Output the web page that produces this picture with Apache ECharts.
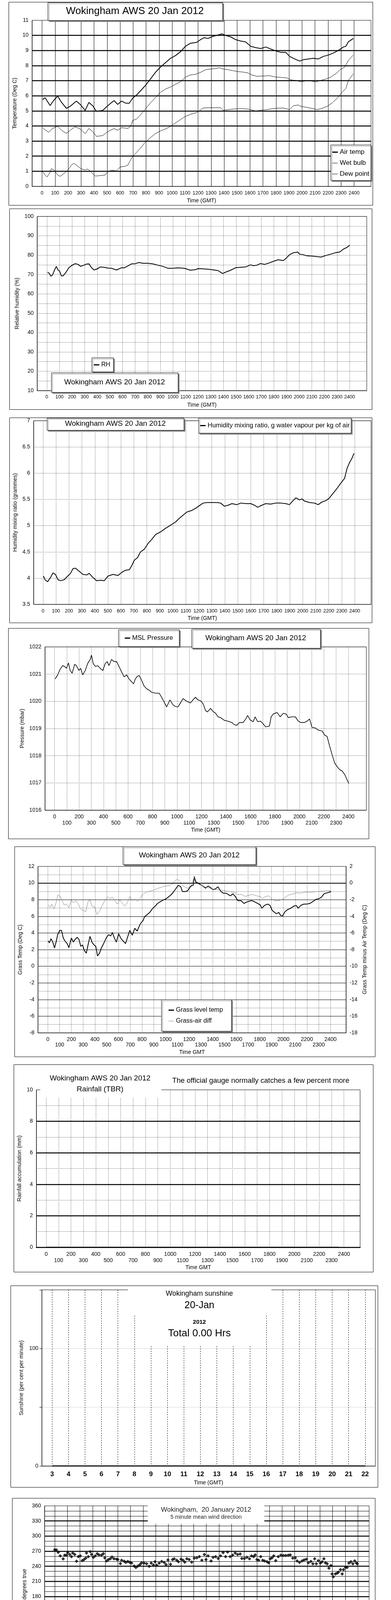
<!DOCTYPE html>
<html><head><meta charset="utf-8">
<script src="https://cdn.jsdelivr.net/npm/echarts@6.0.0/dist/echarts.min.js"></script>
<style>html,body{margin:0;padding:0;background:#fff;}#page{position:relative;width:1000px;height:5000px;background:#fff;}.panel{position:absolute;}</style>
</head><body><div id="page"></div>
<script>
// ---------- tick label arrays ----------
const hhmmTicks = [0,100,200,300,400,500,600,700,800,900,1000,1100,1200,1300,1400,1500,1600,1700,1800,1900,2000,2100,2200,2300,2400];
const hhmmEven = [0,200,400,600,800,1000,1200,1400,1600,1800,2000,2200,2400];
const hhmmOdd = [100,300,500,700,900,1100,1300,1500,1700,1900,2100,2300];
const hourTicks = [0,1,2,3,4,5,6,7,8,9,10,11,12,13,14,15,16,17,18,19,20,21,22,23,24];
const hourEven = [0,2,4,6,8,10,12,14,16,18,20,22];
const hourOdd = [1,3,5,7,9,11,13,15,17,19,21,23];
const sunHours = [3,4,5,6,7,8,9,10,11,12,13,14,15,16,17,18,19,20,21,22];

// ---------- series data (time HHMM, value) ----------
const airTemp = [[4,5.75],[23,5.87],[62,5.35],[90,5.7],[120,5.98],[150,5.56],[187,5.17],[216,5.3],[264,5.65],[293,5.43],[332,5.03],[360,5.56],[390,5.34],[418,4.97],[466,5.03],[505,5.34],[553,5.68],[582,5.43],[611,5.65],[640,5.52],[670,5.5],[698,5.85],[727,6.05],[765,6.4],[794,6.67],[833,7.1],[872,7.55],[911,7.9],[950,8.2],[988,8.48],[1026,8.66],[1065,8.92],[1103,9.28],[1142,9.48],[1190,9.54],[1219,9.72],[1248,9.85],[1277,9.8],[1316,9.94],[1354,10.03],[1383,10.1],[1412,10.0],[1451,9.9],[1489,9.72],[1528,9.63],[1566,9.57],[1605,9.28],[1644,9.19],[1682,9.13],[1721,9.23],[1759,9.1],[1798,8.97],[1836,8.88],[1875,8.88],[1904,8.61],[1943,8.44],[1981,8.3],[2010,8.39],[2049,8.44],[2087,8.48],[2126,8.44],[2164,8.61],[2203,8.7],[2241,8.83],[2280,9.01],[2318,9.23],[2337,9.28],[2357,9.58],[2395,9.8]];
const wetBulb = [[4,3.89],[23,3.75],[52,3.58],[81,3.84],[120,3.98],[150,3.71],[187,3.51],[216,3.71],[254,3.95],[293,3.8],[332,3.49],[360,3.83],[390,3.62],[418,3.31],[466,3.36],[505,3.62],[553,3.83],[582,3.71],[611,3.89],[660,3.84],[679,3.95],[698,4.37],[727,4.46],[765,4.81],[794,5.12],[833,5.52],[872,5.87],[911,6.23],[950,6.45],[988,6.58],[1026,6.76],[1065,6.93],[1103,7.24],[1142,7.38],[1180,7.42],[1219,7.55],[1258,7.73],[1296,7.77],[1335,7.8],[1364,7.86],[1393,7.77],[1431,7.73],[1470,7.66],[1508,7.6],[1547,7.57],[1585,7.51],[1614,7.38],[1653,7.29],[1701,7.31],[1750,7.33],[1798,7.24],[1836,7.22],[1885,7.18],[1914,7.05],[1952,7.02],[1991,6.93],[2029,6.98],[2068,6.98],[2106,6.92],[2145,7.02],[2183,7.11],[2222,7.24],[2260,7.46],[2299,7.77],[2328,7.9],[2357,8.35],[2395,8.7]];
const dewPoint = [[4,0.97],[23,0.75],[38,0.62],[62,0.93],[71,1.17],[90,1.1],[120,0.75],[139,0.66],[168,0.84],[197,1.06],[226,1.41],[245,1.53],[274,1.33],[303,1.15],[332,1.09],[351,1.15],[380,0.93],[409,0.68],[447,0.71],[486,0.75],[505,0.97],[534,1.06],[572,1.02],[601,1.28],[640,1.33],[660,1.41],[679,1.72],[698,1.99],[727,2.25],[756,2.52],[794,2.92],[833,3.22],[872,3.49],[911,3.67],[950,3.8],[988,3.98],[1026,4.2],[1065,4.42],[1103,4.64],[1142,4.77],[1180,4.86],[1209,4.99],[1238,5.19],[1277,5.21],[1335,5.21],[1373,5.21],[1393,5.04],[1431,5.08],[1470,5.12],[1528,5.15],[1585,5.12],[1644,4.99],[1682,5.04],[1740,5.1],[1798,5.17],[1856,5.19],[1904,5.08],[1933,5.34],[1971,5.39],[1991,5.3],[2049,5.21],[2087,5.15],[2116,5.08],[2155,5.17],[2193,5.3],[2231,5.52],[2270,5.83],[2308,6.23],[2337,6.49],[2357,7.02],[2395,7.46]];
const relHumidity = [[6,71.2],[20,70.5],[32,69.1],[46,69.9],[62,72.5],[75,74.2],[89,72.3],[101,71.7],[115,69.3],[129,69.3],[149,70.9],[175,73.5],[201,74.8],[225,75.6],[248,75.2],[268,74.2],[294,74.8],[314,75.4],[334,75.5],[354,73.5],[374,72.3],[400,72.9],[423,73.9],[453,73.7],[483,73.3],[513,73.2],[552,72.3],[592,73.5],[612,73.4],[642,74.4],[672,75.5],[701,75.6],[731,76.2],[761,75.8],[801,75.8],[840,75.5],[880,74.8],[920,74.2],[960,73.2],[999,73.2],[1039,73.4],[1089,73.2],[1138,72.2],[1178,72.5],[1198,73.0],[1238,72.9],[1278,72.7],[1317,72.4],[1357,72.0],[1393,70.5],[1417,71.2],[1457,72.2],[1497,73.5],[1536,73.7],[1576,73.9],[1616,75.0],[1636,74.5],[1665,74.8],[1695,75.7],[1725,75.2],[1765,76.0],[1804,77.0],[1834,77.6],[1874,77.2],[1894,78.2],[1924,80.2],[1953,81.2],[1989,81.6],[2003,80.5],[2033,80.2],[2063,79.6],[2102,79.5],[2142,79.2],[2176,79.0],[2212,79.8],[2252,80.5],[2291,81.3],[2321,81.6],[2351,83.1],[2381,84.1],[2400,85.1]];
const mixingRatio = [[4,4.04],[15,3.97],[35,3.93],[58,4.01],[77,4.10],[96,4.07],[116,3.97],[135,3.95],[164,3.97],[183,4.02],[212,4.09],[231,4.18],[250,4.19],[279,4.13],[308,4.07],[337,4.06],[356,4.09],[385,4.01],[414,3.95],[443,3.96],[472,3.95],[501,4.04],[540,4.07],[578,4.05],[607,4.11],[636,4.15],[665,4.16],[684,4.24],[703,4.34],[728,4.39],[751,4.5],[780,4.55],[809,4.66],[838,4.74],[867,4.83],[905,4.88],[944,4.95],[983,5.01],[1021,5.07],[1050,5.14],[1079,5.2],[1108,5.26],[1146,5.29],[1175,5.33],[1204,5.38],[1233,5.43],[1262,5.44],[1301,5.44],[1339,5.44],[1368,5.43],[1397,5.37],[1426,5.39],[1455,5.42],[1493,5.40],[1522,5.43],[1561,5.42],[1599,5.42],[1628,5.39],[1653,5.35],[1686,5.39],[1715,5.42],[1753,5.41],[1792,5.43],[1830,5.43],[1869,5.42],[1898,5.40],[1927,5.48],[1947,5.53],[1975,5.49],[1994,5.51],[2013,5.47],[2052,5.44],[2090,5.43],[2119,5.40],[2148,5.45],[2181,5.48],[2206,5.53],[2235,5.62],[2264,5.71],[2293,5.81],[2322,5.9],[2341,6.09],[2360,6.2],[2380,6.29],[2395,6.38]];
const mslPressure = [[4,1020.82],[25,1020.97],[45,1021.18],[66,1021.31],[82,1021.28],[96,1021.21],[113,1021.41],[127,1021.13],[143,1021.03],[164,1021.36],[178,1021.31],[199,1021.13],[213,1021.21],[229,1020.97],[250,1021.13],[270,1021.39],[291,1021.54],[301,1021.70],[315,1021.39],[332,1021.28],[352,1021.31],[373,1021.21],[393,1021.13],[414,1021.39],[430,1021.46],[444,1021.31],[465,1021.54],[485,1021.46],[506,1021.46],[526,1021.28],[547,1021.08],[567,1020.90],[588,1020.97],[608,1020.82],[629,1020.72],[645,1020.64],[659,1020.82],[676,1020.92],[690,1020.95],[711,1020.77],[731,1020.56],[752,1020.46],[772,1020.41],[793,1020.33],[823,1020.30],[854,1020.30],[874,1020.15],[895,1019.97],[915,1019.79],[942,1020.05],[967,1019.87],[987,1019.81],[1008,1019.79],[1028,1019.94],[1049,1020.10],[1079,1020.0],[1110,1019.94],[1130,1020.05],[1151,1020.15],[1171,1020.05],[1192,1020.02],[1212,1019.92],[1233,1019.66],[1249,1019.61],[1274,1019.74],[1294,1019.63],[1315,1019.56],[1335,1019.43],[1356,1019.40],[1387,1019.30],[1417,1019.27],[1448,1019.22],[1468,1019.14],[1489,1019.12],[1509,1019.22],[1540,1019.22],[1561,1019.35],[1577,1019.48],[1597,1019.32],[1622,1019.25],[1638,1019.43],[1659,1019.25],[1683,1019.27],[1704,1019.17],[1724,1019.06],[1755,1019.09],[1769,1019.43],[1786,1019.53],[1817,1019.59],[1843,1019.43],[1868,1019.56],[1892,1019.53],[1909,1019.40],[1939,1019.43],[1966,1019.43],[1991,1019.27],[2011,1019.22],[2042,1019.22],[2062,1019.27],[2083,1019.35],[2103,1019.04],[2130,1019.02],[2154,1018.94],[2185,1018.91],[2206,1018.76],[2226,1018.71],[2247,1018.35],[2267,1018.04],[2288,1017.73],[2308,1017.60],[2329,1017.49],[2349,1017.44],[2370,1017.31],[2390,1017.11],[2404,1016.98]];
const grassTemp = [[4,3.06],[13,2.81],[27,3.31],[42,2.90],[57,2.20],[70,2.90],[84,3.81],[101,4.31],[116,4.31],[131,3.40],[148,2.98],[164,2.73],[179,2.23],[200,3.40],[217,2.90],[232,3.23],[249,3.48],[264,3.23],[280,2.40],[295,2.56],[310,1.90],[327,1.57],[344,2.73],[358,3.59],[375,2.90],[392,2.56],[407,2.40],[422,1.24],[439,1.57],[453,2.15],[474,2.73],[496,3.40],[517,3.81],[534,3.64],[548,4.06],[565,3.40],[582,2.90],[601,3.90],[622,3.31],[643,2.98],[660,2.73],[675,3.40],[696,4.31],[717,3.73],[738,4.56],[759,4.23],[776,4.81],[791,5.22],[808,5.47],[822,5.97],[839,6.14],[865,6.47],[886,6.88],[911,7.22],[932,7.55],[953,7.75],[981,7.97],[1002,8.09],[1023,8.31],[1044,8.55],[1065,8.89],[1086,9.30],[1107,9.72],[1128,9.58],[1143,8.97],[1164,8.97],[1185,9.05],[1206,9.47],[1223,9.72],[1234,9.72],[1244,10.79],[1255,10.13],[1276,9.97],[1297,9.80],[1318,9.63],[1339,9.38],[1360,9.63],[1381,9.47],[1402,9.21],[1423,9.30],[1445,9.55],[1466,9.05],[1487,8.80],[1518,8.75],[1550,8.46],[1571,8.71],[1592,8.38],[1613,7.88],[1640,7.88],[1666,7.55],[1687,7.72],[1708,7.80],[1729,7.91],[1755,7.75],[1782,7.55],[1803,7.38],[1818,6.97],[1839,7.31],[1867,7.47],[1887,7.31],[1904,6.73],[1925,6.47],[1940,6.31],[1961,6.47],[1978,6.09],[1993,6.05],[2014,6.55],[2035,6.80],[2062,6.97],[2088,7.22],[2109,7.31],[2126,6.97],[2147,7.31],[2173,7.47],[2198,7.47],[2226,7.55],[2253,7.80],[2278,8.05],[2303,8.14],[2324,8.31],[2345,8.71],[2366,8.80],[2388,8.89],[2404,8.97]];
const grassAirDiff = [[4,-2.62],[21,-2.95],[34,-2.53],[53,-3.12],[70,-2.37],[84,-1.46],[101,-1.54],[116,-1.95],[137,-2.62],[158,-2.53],[179,-2.95],[200,-2.04],[217,-2.37],[238,-2.12],[259,-2.53],[280,-3.12],[299,-3.28],[321,-3.45],[342,-2.20],[358,-2.04],[375,-2.78],[396,-2.87],[418,-3.78],[439,-3.37],[460,-2.78],[485,-2.04],[506,-1.62],[527,-1.87],[548,-1.70],[570,-2.12],[590,-2.53],[612,-2.04],[633,-2.45],[654,-2.78],[675,-2.37],[696,-1.62],[717,-2.12],[738,-1.87],[759,-2.20],[780,-1.95],[801,-1.46],[822,-1.21],[844,-1.04],[875,-0.96],[907,-0.79],[938,-0.62],[970,-0.46],[1002,-0.38],[1033,-0.29],[1065,-0.04],[1086,0.37],[1103,0.46],[1122,0.21],[1143,-0.29],[1164,-0.46],[1185,-0.62],[1206,-0.46],[1223,-0.04],[1244,0.70],[1261,0.21],[1286,-0.04],[1307,-0.29],[1333,-0.46],[1360,-0.54],[1392,-0.71],[1423,-0.79],[1455,-0.79],[1487,-0.87],[1518,-0.96],[1550,-1.04],[1582,-1.12],[1613,-1.37],[1645,-1.37],[1677,-1.62],[1708,-1.46],[1740,-1.37],[1772,-1.54],[1803,-1.62],[1824,-1.87],[1845,-1.62],[1877,-1.54],[1904,-1.95],[1930,-2.12],[1961,-2.12],[1993,-1.95],[2024,-1.62],[2056,-1.37],[2088,-1.29],[2120,-1.16],[2151,-1.21],[2183,-1.09],[2214,-1.12],[2246,-1.09],[2278,-1.04],[2310,-0.99],[2341,-0.96],[2373,-0.91],[2404,-0.92]];
const rainfallAccum = [[0,0],[100,0],[200,0],[300,0],[400,0],[500,0],[600,0],[700,0],[800,0],[900,0],[1000,0],[1100,0],[1200,0],[1300,0],[1400,0],[1500,0],[1600,0],[1700,0],[1800,0],[1900,0],[2000,0],[2100,0],[2200,0],[2300,0],[2359,0]];
const sunshinePct = [0,0,0,0,0,0,0,0,0,0,0,0,0,0,0,0,0,0,0,0];
// wind direction: [hour, degrees]
const windDir = [[0.00,272.9],[0.14,272.6],[0.28,267.7],[0.44,260.6],[0.67,254.6],[0.79,262],[0.93,262],[1.03,267],[1.19,263.4],[1.33,259.1],[1.43,266.3],[1.59,263.4],[1.73,250],[1.87,259.1],[2.02,260.6],[2.18,251.1],[2.32,253.4],[2.46,256.3],[2.52,266.3],[2.66,259.1],[2.82,269.1],[2.92,263.4],[3.06,257.7],[3.21,260.6],[3.37,264.9],[3.51,262.6],[3.71,262],[3.85,264.9],[3.97,256.9],[4.11,250.6],[4.25,253.4],[4.40,254.9],[4.54,258.3],[4.70,254.9],[4.90,254],[5.00,253.4],[5.20,245.4],[5.30,252],[5.50,250],[5.63,247.7],[5.79,249.7],[5.95,247.7],[6.09,246.3],[6.29,240.6],[6.43,237.7],[6.59,240.6],[6.75,243.4],[6.88,246.9],[7.08,246.3],[7.28,244.9],[7.48,240],[7.64,246.3],[7.82,242.6],[7.94,249.1],[8.08,242],[8.27,246.3],[8.47,249.7],[8.67,247.7],[8.81,243.4],[8.97,252.6],[9.17,244],[9.33,253.4],[9.46,254.9],[9.66,252],[9.80,249.1],[10.00,254],[10.16,252],[10.30,248.3],[10.46,254.9],[10.65,253.4],[10.85,248.3],[11.05,256.3],[11.25,256.9],[11.45,259.1],[11.65,252],[11.85,263.4],[11.98,253.4],[12.14,260.6],[12.38,250.6],[12.54,257.7],[12.74,259.1],[12.94,255.7],[13.13,260.6],[13.33,267.1],[13.53,259.1],[13.69,268.3],[13.89,259.1],[14.09,262],[14.29,266.3],[14.48,263.4],[14.68,264.3],[14.82,255.4],[15.02,255.4],[15.22,257.7],[15.42,254.9],[15.58,260.6],[15.75,259.1],[15.87,262.6],[16.01,253.4],[16.15,252],[16.31,259.1],[16.47,252],[16.61,250.6],[16.81,249.1],[16.94,246.9],[17.06,254.9],[17.20,256.9],[17.34,260.6],[17.50,251.1],[17.70,259.1],[17.90,262],[18.10,261.4],[18.29,261.4],[18.49,262],[18.65,262.6],[18.85,256.3],[19.05,256.9],[19.19,250.6],[19.38,247.7],[19.58,250.6],[19.74,252.6],[19.92,254],[20.08,246.9],[20.28,249.7],[20.44,244.9],[20.58,254.9],[20.71,244.9],[20.87,251.1],[21.03,246.3],[21.17,249.1],[21.31,254.9],[21.43,246.9],[21.57,244.9],[21.71,236.3],[21.87,241.4],[21.96,224.9],[22.06,219.1],[22.22,224.9],[22.36,226.3],[22.46,228.3],[22.62,233.4],[22.76,224.9],[22.86,233.4],[23.02,237.7],[23.15,237.7],[23.29,246.3],[23.45,249.1],[23.61,244.9],[23.75,250.6],[23.89,246.3],[23.95,244.9]];
// wind speed 10-min mean: [hour, knots]
const windMean = [[0.06,8.07],[0.15,6.94],[0.25,8.07],[0.39,8.63],[0.54,7.79],[0.69,6.66],[0.83,6.09],[0.96,6.94],[1.08,8.63],[1.21,9.76],[1.37,9.2],[1.50,8.92],[1.66,9.2],[1.79,8.35],[1.89,7.51],[1.98,5.64],[2.12,5.64],[2.27,8.07],[2.43,8.52],[2.56,7.22],[2.70,8.07],[2.85,8.63],[3.01,8.18],[3.14,6.83],[3.33,6.94],[3.53,7.51],[3.72,9.2],[3.91,7.39],[4.10,7.51],[4.30,8.63],[4.49,7.79],[4.68,7.22],[4.87,8.92],[5.07,9.48],[5.26,9.2],[5.45,8.63],[5.65,9.48],[5.84,9.76],[6.03,8.07],[6.22,7.79],[6.42,8.63],[6.61,7.22],[6.80,8.63],[6.99,9.2],[7.19,8.92],[7.38,9.48],[7.57,9.2],[7.76,9.2],[7.96,9.48],[8.15,10.05],[8.34,9.48],[8.54,9.2],[8.73,9.59],[8.92,8.92],[9.11,9.76],[9.25,12.02],[9.40,10.61],[9.60,10.89],[9.79,9.76],[9.94,9.48],[10.13,12.47],[10.27,11.46],[10.46,11.74],[10.66,11.17],[10.85,11.74],[11.00,10.05],[11.14,11.46],[11.33,12.3],[11.52,11.17],[11.71,12.3],[11.91,12.13],[12.10,10.61],[12.29,12.02],[12.49,11.17],[12.64,13.15],[12.83,12.02],[13.03,11.46],[13.22,11.17],[13.41,10.61],[13.60,10.89],[13.80,9.76],[13.99,11.17],[14.22,10.89],[14.41,9.2],[14.60,9.76],[14.80,10.05],[14.99,8.92],[15.18,10.33],[15.38,8.63],[15.57,9.48],[15.76,10.61],[15.95,12.02],[16.11,10.05],[16.30,8.07],[16.49,9.76],[16.72,8.92],[16.92,9.76],[17.11,9.31],[17.30,10.33],[17.49,9.2],[17.69,9.48],[17.88,9.48],[18.07,8.92],[18.27,8.35],[18.46,9.48],[18.65,9.88],[18.84,8.63],[19.04,8.35],[19.23,8.07],[19.42,7.51],[19.61,7.79],[19.81,7.51],[20.00,7.22],[20.15,6.66],[20.29,5.25],[20.48,6.09],[20.67,7.22],[20.87,6.66],[21.06,7.22],[21.25,6.38],[21.45,7.51],[21.64,6.94],[21.83,6.38],[22.02,6.09],[22.22,5.25],[22.41,5.81],[22.60,6.38],[22.79,6.66],[22.99,6.94],[23.18,6.09],[23.37,7.79],[23.47,9.31],[23.62,9.2],[23.76,8.07],[23.89,6.94],[24.00,7.51]];
// max gust, one reading per 6 minutes from 00:00
const gustStep = 0.1;
const gustMax = [
14,11,18.5,10,14.5,9,12,8.5,11,8,
16,12,18.7,11,15,10,16,9,13,8,
12,7.5,14,9,15.5,10,14,9,13,8.5,
12,8,17,10,14,9,16.5,9,14,8.5,
15,9,13,10,18.5,11,16,10,17,9,
15,10,16,9,14,11,16,9.5,13,9,
13,8,15,9,12,8,14,9,13,10,
15,10,17,11,19.5,10,16,11,18,10,
17,11,20,11,16,12,18,10,19,12,
20,11,24,12,18,13,22,11,19,12,
25.5,13,22,14,24,12,21,14,25,13,
20,13,25,14,19,13,23,14,21,13,
22,13,19,14,23,12,20,13,21,12,
20,12,22,11,18,12,21,11,19,11,
18,11,20,10,17,11,19,10,17,11,
16,10,21,11,18,10,20.5,11,17,10,
17,10,19,10,16,11,18,10,16,10,
15,9,18,10,16,10,17,9,15,10,
15,9,16,8.5,14,9,15,8,13,9,
14,8,15,8.5,13,8,14,7.5,13,8,
12,6.5,14,7,15,7,13,6.5,14,7,
13,7,15,6.5,12,7,14,6.5,13,6,
11,6,14,6.5,12,6,13,6.5,12,7,
14,8,17,9,15,8,14,9,12,10,
11];
const slowSpeedsDiv10 = [];

// ---------- helpers ----------
const NARROW = "'Liberation Sans Narrow','Arial Narrow','Liberation Sans',Arial,sans-serif";
const SANS = "'Liberation Sans',Arial,Helvetica,sans-serif";
const BLACK = '#000';
const dotted = {color:'#000', width:1, type:[1,2]};
const ICON_THICK = 'path://M0,0h0.01v0.01h-0.01zM0,3.5h14v3h-14zM0,10h0.01v0.01h-0.01z';
const ICON_THIN = 'path://M0,0h0.01v0.01h-0.01zM0,4.4h14v1.2h-14zM0,10h0.01v0.01h-0.01z';
function plain(v){return String(v);}

function merge(a,b){const r=Object.assign({},a);for(const k in b){const v=b[k];if(v&&typeof v==='object'&&!Array.isArray(v)&&a[k]&&typeof a[k]==='object'&&!Array.isArray(a[k]))r[k]=merge(a[k],v);else r[k]=v;}return r;}
function frameRect(w,h){return {type:'rect',silent:true,z:0,shape:{x:0.5,y:0.5,width:w-1,height:h-1},style:{fill:'transparent',stroke:BLACK,lineWidth:1}};}
function box(x,y,w,h){return {type:'rect',silent:true,z:100,shape:{x:x+0.5,y:y+0.5,width:w,height:h},style:{fill:'#fff',stroke:BLACK,lineWidth:1,shadowColor:'#808080',shadowOffsetX:3,shadowOffsetY:3,shadowBlur:0}};}
function mask(x,y,w,h){return {type:'rect',silent:true,z:99,shape:{x:x,y:y,width:w,height:h},style:{fill:'#fff',stroke:null}};}
function label(x,y,text,size,weight,color){return {type:'text',silent:true,z:101,x:x,y:y,style:{text:text,fill:color||BLACK,font:(weight||'normal')+' '+size+'px '+SANS,align:'center',verticalAlign:'middle',textAlign:'center',textVerticalAlign:'middle'}};}
function gridAt(l,t,w,h){return {left:l,top:t,width:w,height:h,show:true,borderColor:BLACK,borderWidth:1,backgroundColor:'transparent'};}
function xBase(o){return merge({type:'value',axisLine:{show:true,onZero:false,lineStyle:{color:BLACK,width:1}},axisTick:{show:false},axisLabel:{color:BLACK,fontFamily:NARROW,fontSize:14,formatter:plain},splitLine:{show:true},nameLocation:'middle',nameTextStyle:{color:BLACK,fontFamily:SANS,fontSize:14}},o);}
function hhmmAxis(min,max,grid,labels,margin,name,gap,size){return xBase({min:min,max:max,axisTick:{customValues:hhmmTicks},axisLabel:{customValues:labels,margin:margin,fontSize:size||14},splitLine:{lineStyle:grid},name:name,nameGap:gap});}
function secondRow(min,max,labels,margin,fmt){return {type:'value',min:min,max:max,position:'bottom',axisLine:{show:false,onZero:false},axisTick:{show:false},splitLine:{show:false},axisLabel:{customValues:labels,color:BLACK,fontFamily:NARROW,fontSize:14,margin:margin,formatter:fmt||plain}};}
function yBase(o){return merge({type:'value',axisLine:{show:true,onZero:false,lineStyle:{color:BLACK,width:1}},axisTick:{show:false},axisLabel:{color:BLACK,fontFamily:NARROW,fontSize:14,margin:9,formatter:plain},nameLocation:'middle',nameRotate:90,nameTextStyle:{color:BLACK,fontFamily:SANS,fontSize:14}},o);}
function legendBox(o){return merge({borderColor:BLACK,borderWidth:1,backgroundColor:'#fff',shadowColor:'#808080',shadowOffsetX:3,shadowOffsetY:3,shadowBlur:0,itemWidth:14,itemHeight:10,selectedMode:false,z:50,textStyle:{color:BLACK,fontFamily:SANS,fontSize:16}},o);}
function line(name,data,width,color,extra){return merge({type:'line',name:name,data:data,showSymbol:false,symbol:'none',silent:true,z:3,lineStyle:{color:color||BLACK,width:width},itemStyle:{color:color||BLACK}},extra||{});}
function hh(v){return (v<10?'0':'')+v+':00';}

function panel(frame,option){
  const d=document.createElement('div');d.className='panel';
  d.style.left=frame[0]+'px';d.style.top=frame[1]+'px';d.style.width=frame[2]+'px';d.style.height=frame[3]+'px';
  document.getElementById('page').appendChild(d);
  const c=echarts.init(d,null,{renderer:'canvas'});
  option.animation=false;
  option.textStyle={fontFamily:SANS};
  option.graphic=[frameRect(frame[2],frame[3])].concat(option.graphic||[]);
  c.setOption(option);
}
const TITLE='Wokingham AWS 20 Jan 2012';

// ---------- 1. temperatures ----------
panel([22,5,932,521],{
  grid:gridAt(60,47,867,430),
  xAxis:hhmmAxis(-77,2531,{color:BLACK,width:1},hhmmTicks,11,'Time (GMT)',30,12.5),
  yAxis:yBase({min:0,max:11,interval:1,splitLine:{show:true,showMinLine:false,showMaxLine:false,lineStyle:{color:BLACK,width:2.5}},name:'Temperature (Deg C)',nameGap:37}),
  legend:legendBox({orient:'vertical',left:824,top:366,padding:[10,4,8,4],itemGap:11,textStyle:{fontSize:17},data:[{name:'Air temp',icon:ICON_THICK},{name:'Wet bulb',icon:ICON_THIN},{name:'Dew point',icon:ICON_THIN}]}),
  series:[line('Air temp',airTemp,2),line('Wet bulb',wetBulb,1),line('Dew point',dewPoint,1)],
  graphic:[box(100,1,447,46),label(323,24,TITLE,26)]
});
// ---------- 2. relative humidity ----------
panel([24,534,928,515],{
  grid:gridAt(71,20,843,452),
  xAxis:hhmmAxis(-77,2536,dotted,hhmmTicks,10,'Time (GMT)',30,12.5),
  yAxis:yBase({min:10,max:100,interval:5,axisLabel:{formatter:function(v){return v%10===0?String(v):'';}},splitLine:{show:true,lineStyle:dotted},name:'Relative humidity (%)',nameGap:44}),
  legend:legendBox({left:211,top:382,padding:[10,8,10,5],data:[{name:'RH',icon:ICON_THICK}]}),
  series:[line('RH',relHumidity,2)],
  graphic:[box(107,420,324,50),label(269,445,TITLE,19)]
});
// ---------- 3. mixing ratio ----------
panel([24,1069,928,526],{
  grid:gridAt(61,8,864,473),
  xAxis:hhmmAxis(-72,2526,dotted,hhmmTicks,11,'Time (GMT)',27,12.5),
  yAxis:yBase({min:3.5,max:7,interval:0.5,splitLine:{show:true,lineStyle:dotted},name:'Humidity mixing ratio (grammes)',nameGap:40}),
  legend:legendBox({left:484,top:1,padding:[11,4,11,4],textStyle:{fontSize:16.5},data:[{name:'Humidity mixing ratio, g water vapour per kg of air',icon:ICON_THICK}]}),
  series:[line('Humidity mixing ratio, g water vapour per kg of air',mixingRatio,2)],
  graphic:[box(96,1,350,31),label(271,16,TITLE,19)]
});
// ---------- 4. pressure ----------
panel([21,1608,923,540],{
  grid:gridAt(94,48,822,418),
  xAxis:[hhmmAxis(-79,2547,dotted,hhmmEven,10,'Time (GMT)',44),secondRow(-79,2547,hhmmOdd,26)],
  yAxis:yBase({min:1016,max:1022,interval:1,splitLine:{show:true,lineStyle:dotted},name:'Pressure (mbar)',nameGap:50}),
  legend:legendBox({left:282,top:4,padding:[13,16,13,16],textStyle:{fontSize:16.5},data:[{name:'MSL Pressure',icon:ICON_THICK}]}),
  series:[line('MSL Pressure',mslPressure,1.6)],
  graphic:[box(469,2,329,49),label(633,26,TITLE,19)]
});
// ---------- 5. grass temperature ----------
panel([37,2167,923,539],{
  grid:gridAt(53,51,795,432),
  xAxis:[hhmmAxis(-84,2532,dotted,hhmmEven,10,'Time GMT',43),secondRow(-84,2532,hhmmOdd,24)],
  yAxis:[
    yBase({min:-8,max:12,interval:2,splitLine:{show:true,showMinLine:false,showMaxLine:false,lineStyle:{color:BLACK,width:1.2}},minorTick:{show:false,splitNumber:2},minorSplitLine:{show:true,lineStyle:dotted},name:'Grass Temp (Deg C)',nameGap:38}),
    yBase({min:-18,max:2,interval:2,position:'right',splitLine:{show:false},name:'Grass Temp minus Air Temp (Deg C)',nameGap:41})
  ],
  legend:legendBox({orient:'vertical',left:376,top:392,padding:[19,22,18,18],itemGap:12,data:[{name:'Grass level temp',icon:ICON_THICK},{name:'Grass-air diff',icon:ICON_THIN}]}),
  series:[
    line('Grass level temp',grassTemp,2),
    line('Grass-air diff',grassAirDiff,1,'#808080',{yAxisIndex:1,markLine:{silent:true,symbol:'none',animation:false,label:{show:false},lineStyle:{color:BLACK,width:2,type:'solid'},data:[{yAxis:0}]}})
  ],
  graphic:[box(277,0,340,46),label(447,23,TITLE,19)]
});
// ---------- 6. rainfall ----------
panel([35,2725,920,532],{
  grid:gridAt(50,65,836,408),
  xAxis:[merge(hhmmAxis(-79,2530,dotted,hhmmEven,11,'Time GMT',45),{axisLine:{lineStyle:{width:2.5}}}),secondRow(-79,2530,hhmmOdd,27)],
  yAxis:yBase({min:0,max:10,interval:2,splitLine:{show:true,showMinLine:false,showMaxLine:false,lineStyle:{color:BLACK,width:2.5}},minorTick:{show:false,splitNumber:2},minorSplitLine:{show:true,lineStyle:dotted},name:'Rainfall accumulation (mm)',nameGap:36}),
  series:[line('Rainfall (TBR)',rainfallAccum,2.5)],
  graphic:[mask(68,15,310,70),label(221,36,TITLE,19),label(221,64,'Rainfall (TBR)',19),label(632,42,'The official gauge normally catches a few percent more',18.5)]
});
// ---------- 7. sunshine ----------
panel([27,3291,940,517],{
  grid:gridAt(80,11,853,455),
  xAxis:xBase({min:2.38,max:22.62,axisTick:{customValues:sunHours},axisLabel:{customValues:sunHours,fontFamily:SANS,fontWeight:'bold',fontSize:17,margin:13},splitLine:{lineStyle:{color:BLACK,width:1,type:[3,3]}},name:'Time (GMT)',nameGap:36}),
  yAxis:yBase({min:0,max:150,interval:50,axisTick:{show:true,length:6,lineStyle:{color:BLACK}},axisLabel:{formatter:function(v){return (v===0||v===100)?String(v):'';}},splitLine:{show:true,showMinLine:false,showMaxLine:false,lineStyle:{color:'#aaa',width:1,type:[1,1]}},name:'Sunshine (per cent per minute)',nameGap:45}),
  series:[line('Sunshine',sunHours.map(function(h,i){return [h,sunshinePct[i]];}),3)],
  graphic:[mask(300,5,367,71),mask(323,76,320,77),label(483,21,'Wokingham sunshine',18),label(483,51,'20-Jan',25),label(483,94,'2012',15,'bold'),label(483,123,'Total 0.00 Hrs',26)]
});
// ---------- 8. wind direction ----------
panel([31,3835,929,532],{
  grid:gridAt(83,20,830,464),
  xAxis:xBase({min:-0.8,max:24.89,axisTick:{customValues:hourTicks},axisLabel:{customValues:hourTicks,margin:10},splitLine:{lineStyle:{color:BLACK,width:1}},name:'Time (GMT)',nameGap:29}),
  yAxis:yBase({min:0,max:360,interval:30,splitLine:{show:true,showMinLine:false,showMaxLine:false,lineStyle:{color:BLACK,width:2.5}},minorTick:{show:false,splitNumber:3},minorSplitLine:{show:true,lineStyle:{color:BLACK,width:1}},name:'Direction, degrees true',nameGap:44}),
  series:[{type:'scatter',name:'5 minute mean wind direction',data:windDir,symbol:'diamond',symbolSize:9,silent:true,z:3,itemStyle:{color:BLACK}}],
  graphic:[mask(347,14,298,52),label(496,30,'Wokingham,  20 January 2012',17,'normal','#222'),label(496,49,'5 minute mean wind direction',14,'normal','#222')]
});
// ---------- 9. wind speed ----------
panel([28,4380,931,518],{
  grid:gridAt(57,44,855,398),
  xAxis:[
    xBase({min:-0.76,max:24.95,axisTick:{customValues:hourTicks},axisLabel:{customValues:hourEven,formatter:hh,margin:12},splitLine:{lineStyle:dotted},name:'Time (GMT)',nameGap:45}),
    secondRow(-0.76,24.95,hourOdd,28,hh)
  ],
  yAxis:[
    yBase({min:0,max:50,interval:5,axisLabel:{formatter:function(v){return v%10===0?String(v):'';}},splitLine:{show:true,lineStyle:dotted},name:'Speed (knots)',nameGap:36}),
    {type:'value',position:'right',min:0,max:50,interval:50,axisLine:{show:false},axisTick:{show:false},splitLine:{show:false},axisLabel:{formatter:function(v){return v===0?'0':'';},color:BLACK,fontWeight:'bold',fontSize:11,fontFamily:SANS,margin:9}}
  ],
  legend:legendBox({left:701,top:6,padding:[6,33,6,60],itemGap:28,itemWidth:12,textStyle:{fontSize:11,fontFamily:NARROW},data:[{name:'Speed x 1',icon:ICON_THICK},{name:'Speed /10',icon:'diamond'}]}),
  series:[
    line('Max gust',gustMax.map(function(v,i){return [i*gustStep,v];}),1,'#505050'),
    line('Speed x 1',windMean,2),
    {type:'scatter',name:'Speed /10',data:slowSpeedsDiv10,symbol:'diamond',symbolSize:9,itemStyle:{color:'#fff',borderColor:'#666',borderWidth:1}}
  ],
  graphic:[mask(67,40,337,8),label(234,23,'Wokingham,  20 January 2012',19),label(546,12,'Wind speed, 10 min mean / max gust',14,'normal','#222'),label(546,30,'Speeds below 4 kt shown at x10 scale',14,'normal','#222')]
});
</script></body></html>
